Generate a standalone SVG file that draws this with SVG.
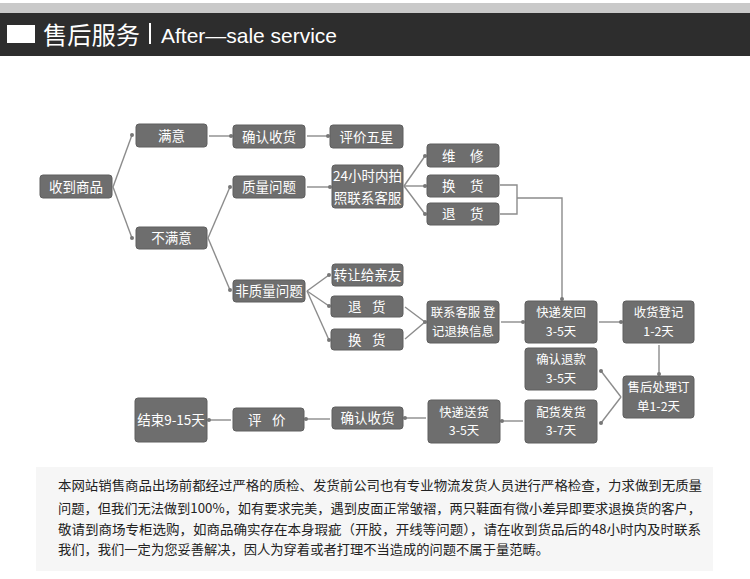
<svg xmlns="http://www.w3.org/2000/svg" width="750" height="579" viewBox="0 0 750 579">
<style>
.box{fill:#6e6e6e;stroke:#5e5e5e;stroke-width:1}
.t{font-family:"Noto Sans CJK SC","Noto Sans",sans-serif;font-size:13.5px;fill:#ffffff;text-anchor:middle}
.t2{font-family:"Noto Sans CJK SC","Noto Sans",sans-serif;font-size:12.4px;fill:#ffffff;text-anchor:middle}
.ts{font-family:"Noto Sans CJK SC","Noto Sans",sans-serif;font-size:13.5px;fill:#ffffff}
.c{fill:none;stroke:#8c8c8c;stroke-width:1.4}
.d{fill:#777777}
.p{font-family:"Noto Sans CJK SC","Noto Sans",sans-serif;font-size:13px;fill:#222222}
</style>
<rect x="0" y="0" width="750" height="579" fill="#ffffff"/>
<g id="header">
<rect x="0" y="3" width="750" height="10" fill="#c9c9c9"/>
<rect x="0" y="13" width="750" height="43" fill="#2d2d2d"/>
<rect x="7" y="25" width="28" height="18" fill="#ffffff"/>
<text x="43" y="44" font-family="'Noto Sans CJK SC',sans-serif" font-size="24" fill="#ffffff" textLength="97" lengthAdjust="spacingAndGlyphs">售后服务</text>
<rect x="149" y="23" width="2" height="21" fill="#ffffff"/>
<text x="161" y="43" font-family="'Liberation Sans',Arial,sans-serif" font-size="21" fill="#ffffff" textLength="176" lengthAdjust="spacingAndGlyphs">After—sale  service</text>
</g>
<g id="connectors">
<path class="c" d="M113,187 L132,135"/><circle class="d" cx="132" cy="135" r="2"/>
<path class="c" d="M113,187 L132,238"/><circle class="d" cx="132" cy="238" r="2"/>
<path class="c" d="M209,136 L231,136"/><circle class="d" cx="231" cy="136" r="2"/>
<path class="c" d="M307,136 L328,136"/><circle class="d" cx="328" cy="136" r="2"/>
<path class="c" d="M208,238 L230,187"/><circle class="d" cx="230" cy="187" r="2"/>
<path class="c" d="M208,238 L230,290"/><circle class="d" cx="230" cy="290" r="2"/>
<path class="c" d="M307,187 L330,187"/><circle class="d" cx="330" cy="187" r="2"/>
<path class="c" d="M404,186 L425,156"/><circle class="d" cx="425" cy="156" r="2"/>
<path class="c" d="M404,186 L425,186"/><circle class="d" cx="425" cy="186" r="2"/>
<path class="c" d="M404,186 L425,214"/><circle class="d" cx="425" cy="214" r="2"/>
<path class="c" d="M500,185 L517,185 L517,214 L500,214"/>
<path class="c" d="M517,198 L562,198 L562,299"/><circle class="d" cx="562" cy="299" r="2"/>
<path class="c" d="M307,291 L329,275"/><circle class="d" cx="329" cy="275" r="2"/>
<path class="c" d="M307,291 L329,306"/><circle class="d" cx="329" cy="306" r="2"/>
<path class="c" d="M307,291 L329,340"/><circle class="d" cx="329" cy="340" r="2"/>
<path class="c" d="M405,307 L425,322 L405,339"/><circle class="d" cx="425" cy="322" r="2"/>
<path class="c" d="M501,322 L523,322"/><circle class="d" cx="523" cy="322" r="2"/>
<path class="c" d="M599,322 L621,322"/><circle class="d" cx="621" cy="322" r="2"/>
<path class="c" d="M659,345 L659,374"/><circle class="d" cx="659" cy="374" r="2"/>
<path class="c" d="M621,397 L601,371"/><circle class="d" cx="601" cy="371" r="2"/>
<path class="c" d="M621,397 L601,423"/><circle class="d" cx="601" cy="423" r="2"/>
<path class="c" d="M523,421 L502,421"/><circle class="d" cx="502" cy="421" r="2"/>
<path class="c" d="M426,418 L405,418"/><circle class="d" cx="405" cy="418" r="2"/>
<path class="c" d="M330,419 L306,419"/><circle class="d" cx="306" cy="419" r="2"/>
<path class="c" d="M231,420 L209,420"/><circle class="d" cx="209" cy="420" r="2"/>
</g>
<g id="n1"><rect class="box" x="40" y="175" width="72" height="23" rx="3"/><text class="t" x="76" y="191.5">收到商品</text></g>
<g id="n2"><rect class="box" x="136" y="124" width="71" height="23" rx="3"/><text class="t" x="171.5" y="140.5">满意</text></g>
<g id="n3"><rect class="box" x="136" y="227" width="71" height="22" rx="3"/><text class="t" x="171.5" y="243">不满意</text></g>
<g id="n4"><rect class="box" x="233" y="125" width="72" height="23" rx="3"/><text class="t" x="269" y="141.5">确认收货</text></g>
<g id="n5"><rect class="box" x="330" y="125" width="73" height="23" rx="3"/><text class="t" x="366.5" y="141.5">评价五星</text></g>
<g id="n6"><rect class="box" x="233" y="176" width="72" height="22" rx="3"/><text class="t" x="269" y="192">质量问题</text></g>
<g id="n7"><rect class="box" x="332" y="165" width="71" height="43" rx="3"/><text class="t" x="367.5" y="181">24小时内拍</text><text class="t" x="367.5" y="203">照联系客服</text></g>
<g id="n8"><rect class="box" x="427" y="144" width="72" height="23" rx="3"/><text class="ts" x="442" y="160.5">维<tspan x="470">修</tspan></text></g>
<g id="n9"><rect class="box" x="427" y="175" width="72" height="22" rx="3"/><text class="ts" x="442" y="191">换<tspan x="470">货</tspan></text></g>
<g id="n10"><rect class="box" x="427" y="203" width="72" height="22" rx="3"/><text class="ts" x="442" y="219">退<tspan x="470">货</tspan></text></g>
<g id="n11"><rect class="box" x="233" y="280" width="72" height="22" rx="3"/><text class="t" x="269" y="296">非质量问题</text></g>
<g id="n12"><rect class="box" x="332" y="264" width="71" height="22" rx="3"/><text class="t" x="367.5" y="280">转让给亲友</text></g>
<g id="n13"><rect class="box" x="331" y="296" width="72" height="21" rx="3"/><text class="ts" x="348" y="311.5">退<tspan x="372">货</tspan></text></g>
<g id="n14"><rect class="box" x="331" y="329" width="72" height="21" rx="3"/><text class="ts" x="348" y="344.5">换<tspan x="372">货</tspan></text></g>
<g id="n15"><rect class="box" x="427" y="301" width="72" height="42" rx="3"/><text class="t2" x="463" y="317">联系客服 登</text><text class="t2" x="463" y="335.5">记退换信息</text></g>
<g id="n16"><rect class="box" x="525" y="301" width="72" height="42" rx="3"/><text class="t2" x="561" y="317">快递发回</text><text class="t2" x="561" y="335.5">3-5天</text></g>
<g id="n17"><rect class="box" x="623" y="301" width="71" height="42" rx="3"/><text class="t2" x="658.5" y="317">收货登记</text><text class="t2" x="658.5" y="335.5">1-2天</text></g>
<g id="n18"><rect class="box" x="525" y="348" width="72" height="42" rx="3"/><text class="t2" x="561" y="364">确认退款</text><text class="t2" x="561" y="382.5">3-5天</text></g>
<g id="n19"><rect class="box" x="623" y="376" width="71" height="42" rx="3"/><text class="t2" x="658.5" y="392">售后处理订</text><text class="t2" x="658.5" y="410.5">单1-2天</text></g>
<g id="n20"><rect class="box" x="525" y="400" width="72" height="43" rx="3"/><text class="t2" x="561" y="416.5">配货发货</text><text class="t2" x="561" y="435">3-7天</text></g>
<g id="n21"><rect class="box" x="428" y="400" width="72" height="43" rx="3"/><text class="t2" x="464" y="416.5">快递送货</text><text class="t2" x="464" y="435">3-5天</text></g>
<g id="n22"><rect class="box" x="332" y="407" width="71" height="22" rx="3"/><text class="t" x="367.5" y="423">确认收货</text></g>
<g id="n23"><rect class="box" x="233" y="408" width="71" height="23" rx="3"/><text class="ts" x="248" y="424.5">评<tspan x="272">价</tspan></text></g>
<g id="n24"><rect class="box" x="135" y="398" width="72" height="44" rx="3"/><text class="t" x="171" y="425" font-size="13">结束9-15天</text></g>
<g id="note">
<rect x="36" y="467" width="677" height="104" fill="#f6f6f6"/>
<text class="p" x="58" y="490" textLength="644" lengthAdjust="spacingAndGlyphs">本网站销售商品出场前都经过严格的质检、发货前公司也有专业物流发货人员进行严格检查，力求做到无质量</text>
<text class="p" x="58" y="513" textLength="643" lengthAdjust="spacingAndGlyphs">问题，但我们无法做到100%，如有要求完美，遇到皮面正常皱褶，两只鞋面有微小差异即要求退换货的客户，</text>
<text class="p" x="58" y="534" textLength="643" lengthAdjust="spacingAndGlyphs">敬请到商场专柜选购，如商品确实存在本身瑕疵（开胶，开线等问题），请在收到货品后的48小时内及时联系</text>
<text class="p" x="58" y="554" textLength="491" lengthAdjust="spacingAndGlyphs">我们，我们一定为您妥善解决，因人为穿着或者打理不当造成的问题不属于量范畴。</text>
</g>
</svg>
